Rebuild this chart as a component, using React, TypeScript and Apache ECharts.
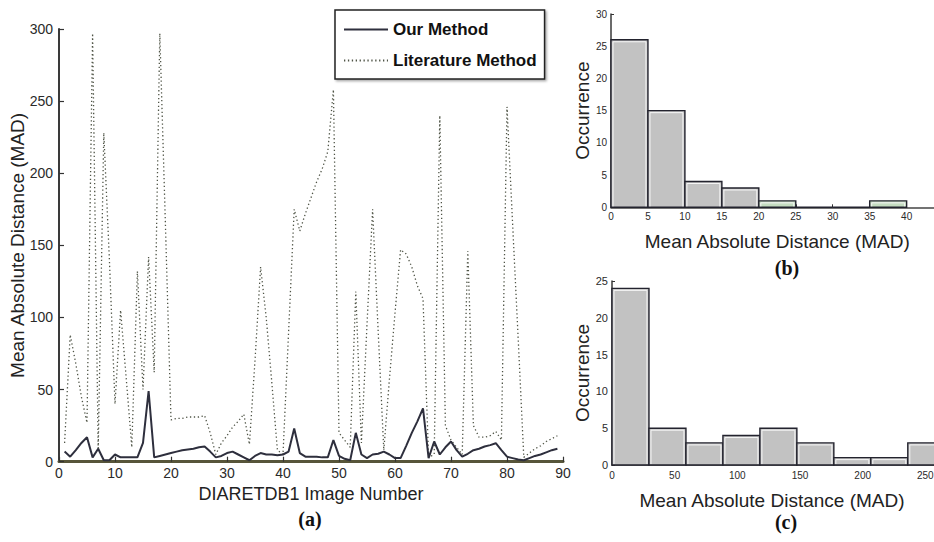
import React, { useEffect, useRef } from "react";
import * as echarts from "echarts";

// ---- Data ----
// (a) MAD per DIARETDB1 image (images 1..89)
const ourMethod = [
  7, 3.5, 8, 13, 17, 3, 9, 1, 1, 5,
  3, 3, 3, 3, 13, 49, 3, 4, 5, 6,
  7, 8, 8.5, 9, 10, 10.5, 7, 3, 4, 6,
  7, 5, 3, 1, 4, 6, 5, 5, 4.5, 5,
  7, 23, 6, 3.5, 3.5, 3.5, 3, 3, 15, 4,
  2, 1, 20, 5, 2.5, 5, 5.5, 7, 5, 2.5,
  2.5, 11, 20, 28, 37, 2.5, 14, 5, 10, 14,
  8, 3.5, 5.5, 8, 9, 10.5, 11.5, 12.8, 8, 3.5,
  2.5, 1.5, 1, 2.5, 4, 5, 6.5, 8, 9,
];
const literatureMethod = [
  13, 88, 68, 45, 27, 297, 8, 228, 140, 40,
  105, 58, 10, 132, 50, 142, 62, 297, 165, 29,
  30, 30, 31, 31, 31, 32, 20, 5, 13, 18,
  24, 28, 33, 12, 70, 135, 100, 55, 8, 5,
  90, 175, 160, 172, 183, 194, 203, 215, 258, 20,
  15, 10, 118, 13, 95, 175, 90, 8, 57, 103,
  147, 144, 135, 122, 113, 3, 5, 240, 25, 15,
  10, 5, 146, 25, 17, 17, 18, 21, 15, 246,
  165, 85, 3, 6, 9, 11, 14, 16, 18,
];
const seriesNames = ["Our Method", "Literature Method"];

// (b) histogram of Our Method MAD
const histBEdges = [0, 5, 10, 15, 20, 25, 30, 35, 40];
const histBCounts = [26, 15, 4, 3, 1, 0, 0, 1];
// (c) histogram of Literature Method MAD
const histCEdges = [0, 29.5, 59, 88.5, 118, 147.5, 177, 206.5, 236, 265.5, 295];
const histCCounts = [24, 5, 3, 4, 5, 3, 1, 1, 3, 2];

// ---- styles ----
const SANS = "'Liberation Sans', Arial, sans-serif";
const SERIF = "'Liberation Serif', 'Times New Roman', serif";
const accentBinsB = [4, 7];

function binData(edges: number[], counts: number[]) {
  return counts.map((c, i) => [edges[i], edges[i + 1], c]);
}

function makeRenderItem(accent: number[]) {
  return (params: any, api: any) => {
    const x0 = api.value(0);
    const x1 = api.value(1);
    const c = api.value(2);
    const pTop = api.coord([x0, c]);
    const pBot = api.coord([x1, 0]);
    const w = pBot[0] - pTop[0];
    const h = pBot[1] - pTop[1];
    const fill = accent.includes(params.dataIndex) ? "#c4dcc0" : "#c2c2c2";
    const children: any[] = [
      {
        type: "rect",
        shape: { x: pTop[0], y: pTop[1], width: w, height: h },
        style: { fill, stroke: "#23232e", lineWidth: 1.4 },
      },
    ];
    if (h > 5) {
      children.push({
        type: "polyline",
        shape: {
          points: [
            [pTop[0] + 2, pBot[1] - 1],
            [pTop[0] + 2, pTop[1] + 2],
            [pBot[0] - 2, pTop[1] + 2],
            [pBot[0] - 2, pBot[1] - 1],
          ],
        },
        style: { stroke: "#f6f6f6", lineWidth: 1, fill: null },
      });
    }
    return { type: "group", children };
  };
}

export default function App() {
  const ref = useRef<HTMLDivElement>(null);

  useEffect(() => {
    if (!ref.current) return;
    const chart = echarts.init(ref.current, undefined, { renderer: "svg" });

    const ourData = ourMethod.map((v, i) => [i + 1, v]);
    const litData = literatureMethod.map((v, i) => [i + 1, v]);

    const tickLabel = (size: number) => ({
      fontFamily: SANS,
      fontSize: size,
      color: "#2a2a2a",
    });

    const option: any = {
      animation: false,
      backgroundColor: "#ffffff",
      grid: [
        { left: 59, width: 504, top: 29, height: 432.7, containLabel: false, outerBoundsMode: "none" },
        { left: 611, width: 332.6, top: 14, height: 193.3, containLabel: false, outerBoundsMode: "none" },
        { left: 612, width: 376, top: 281, height: 184, containLabel: false, outerBoundsMode: "none" },
      ],
      legend: {
        orient: "vertical",
        left: 335,
        top: 10,
        padding: [11, 8, 10, 8],
        itemGap: 14,
        itemWidth: 44,
        itemHeight: 14,
        data: seriesNames,
        backgroundColor: "#ffffff",
        borderColor: "#222222",
        borderWidth: 1.5,
        borderRadius: 0,
        shadowColor: "rgba(0,0,0,0.35)",
        shadowBlur: 2,
        shadowOffsetX: 1.5,
        shadowOffsetY: 1.5,
        itemStyle: { opacity: 0 },
        textStyle: {
          fontFamily: SANS,
          fontSize: 17,
          fontWeight: "bold",
          color: "#111111",
        },
      },
      xAxis: [
        {
          gridIndex: 0,
          type: "value",
          min: 0,
          max: 90,
          interval: 10,
          name: "DIARETDB1 Image Number",
          nameLocation: "middle",
          nameGap: 20,
          nameTextStyle: { fontFamily: SANS, fontSize: 18, color: "#222" },
          axisLine: { show: true, onZero: false, lineStyle: { color: "#57553a", width: 3 } },
          axisTick: { show: true, inside: true, length: 5, lineStyle: { color: "#333", width: 1.2 } },
          axisLabel: { ...tickLabel(14), margin: 4 },
          splitLine: { show: false },
        },
        {
          gridIndex: 1,
          type: "value",
          min: 0,
          max: 45,
          interval: 5,
          name: "Mean Absolute Distance (MAD)",
          nameLocation: "middle",
          nameGap: 25,
          nameTextStyle: { fontFamily: SANS, fontSize: 19, color: "#222" },
          axisLine: { show: true, onZero: false, lineStyle: { color: "#444", width: 1.5 } },
          axisTick: { show: true, inside: true, length: 3, lineStyle: { color: "#333" } },
          axisLabel: { ...tickLabel(10), margin: 4, showMaxLabel: false },
          splitLine: { show: false },
        },
        {
          gridIndex: 2,
          type: "value",
          min: 0,
          max: 300,
          interval: 50,
          axisLine: { show: true, onZero: false, lineStyle: { color: "#444", width: 1.5 } },
          axisTick: { show: true, inside: true, length: 3, lineStyle: { color: "#333" } },
          axisLabel: { ...tickLabel(10), margin: 5, showMaxLabel: false },
          splitLine: { show: false },
        },
      ],
      yAxis: [
        {
          gridIndex: 0,
          type: "value",
          min: 0,
          max: 300,
          interval: 50,
          name: "Mean Absolute Distance (MAD)",
          nameLocation: "middle",
          nameGap: 32,
          nameMoveOverlap: false,
          nameTextStyle: { fontFamily: SANS, fontSize: 19, color: "#222" },
          axisLine: { show: true, lineStyle: { color: "#3a3a3a", width: 2 } },
          axisTick: { show: true, inside: true, length: 5, lineStyle: { color: "#333", width: 1.2 } },
          axisLabel: { ...tickLabel(14), margin: 6 },
          splitLine: { show: false },
        },
        {
          gridIndex: 1,
          type: "value",
          min: 0,
          max: 30,
          interval: 5,
          name: "Occurrence",
          nameLocation: "middle",
          nameGap: 19,
          nameTextStyle: { fontFamily: SANS, fontSize: 19, color: "#222" },
          axisLine: { show: true, lineStyle: { color: "#3a3a3a", width: 1.5 } },
          axisTick: { show: true, inside: true, length: 3, lineStyle: { color: "#333" } },
          axisLabel: { ...tickLabel(10), margin: 4 },
          splitLine: { show: false },
        },
        {
          gridIndex: 2,
          type: "value",
          min: 0,
          max: 25,
          interval: 5,
          name: "Occurrence",
          nameLocation: "middle",
          nameGap: 19,
          nameTextStyle: { fontFamily: SANS, fontSize: 19, color: "#222" },
          axisLine: { show: true, lineStyle: { color: "#3a3a3a", width: 1.5 } },
          axisTick: { show: true, inside: true, length: 3, lineStyle: { color: "#333" } },
          axisLabel: { ...tickLabel(11), margin: 4 },
          splitLine: { show: false },
        },
      ],
      graphic: [
        {
          type: "text",
          x: 310,
          y: 519,
          style: { text: "(a)", fontFamily: SERIF, fontSize: 20, fontWeight: "bold", fill: "#111", align: "center", verticalAlign: "middle" },
        },
        {
          type: "text",
          x: 787,
          y: 268,
          style: { text: "(b)", fontFamily: SERIF, fontSize: 20, fontWeight: "bold", fill: "#111", align: "center", verticalAlign: "middle" },
        },
        {
          type: "text",
          x: 772,
          y: 500,
          style: { text: "Mean Absolute Distance (MAD)", fontFamily: SANS, fontSize: 19, fill: "#222", align: "center", verticalAlign: "middle" },
        },
        {
          type: "text",
          x: 786,
          y: 522,
          style: { text: "(c)", fontFamily: SERIF, fontSize: 20, fontWeight: "bold", fill: "#111", align: "center", verticalAlign: "middle" },
        },
      ],
      series: [
        {
          name: seriesNames[0],
          type: "line",
          xAxisIndex: 0,
          yAxisIndex: 0,
          data: ourData,
          symbol: "none",
          z: 4,
          lineStyle: { color: "#2e2f3d", width: 2 },
          itemStyle: { color: "#2e2f3d" },
        },
        {
          name: seriesNames[1],
          type: "line",
          xAxisIndex: 0,
          yAxisIndex: 0,
          data: litData,
          symbol: "none",
          z: 3,
          lineStyle: { color: "#4f5446", width: 1.3, type: [1.3, 2.6] },
          itemStyle: { color: "#4f5446" },
        },
        {
          name: "hist-b",
          type: "custom",
          xAxisIndex: 1,
          yAxisIndex: 1,
          data: binData(histBEdges, histBCounts),
          encode: { x: [0, 1], y: 2 },
          renderItem: makeRenderItem(accentBinsB),
          z: 3,
        },
        {
          name: "hist-c",
          type: "custom",
          xAxisIndex: 2,
          yAxisIndex: 2,
          data: binData(histCEdges, histCCounts),
          encode: { x: [0, 1], y: 2 },
          renderItem: makeRenderItem([]),
          z: 3,
        },
      ],
    };

    chart.setOption(option);
    return () => chart.dispose();
  }, []);

  return (
    <div
      ref={ref}
      style={{ position: "fixed", left: 0, top: 0, width: 934, height: 542, background: "#fff" }}
    />
  );
}
